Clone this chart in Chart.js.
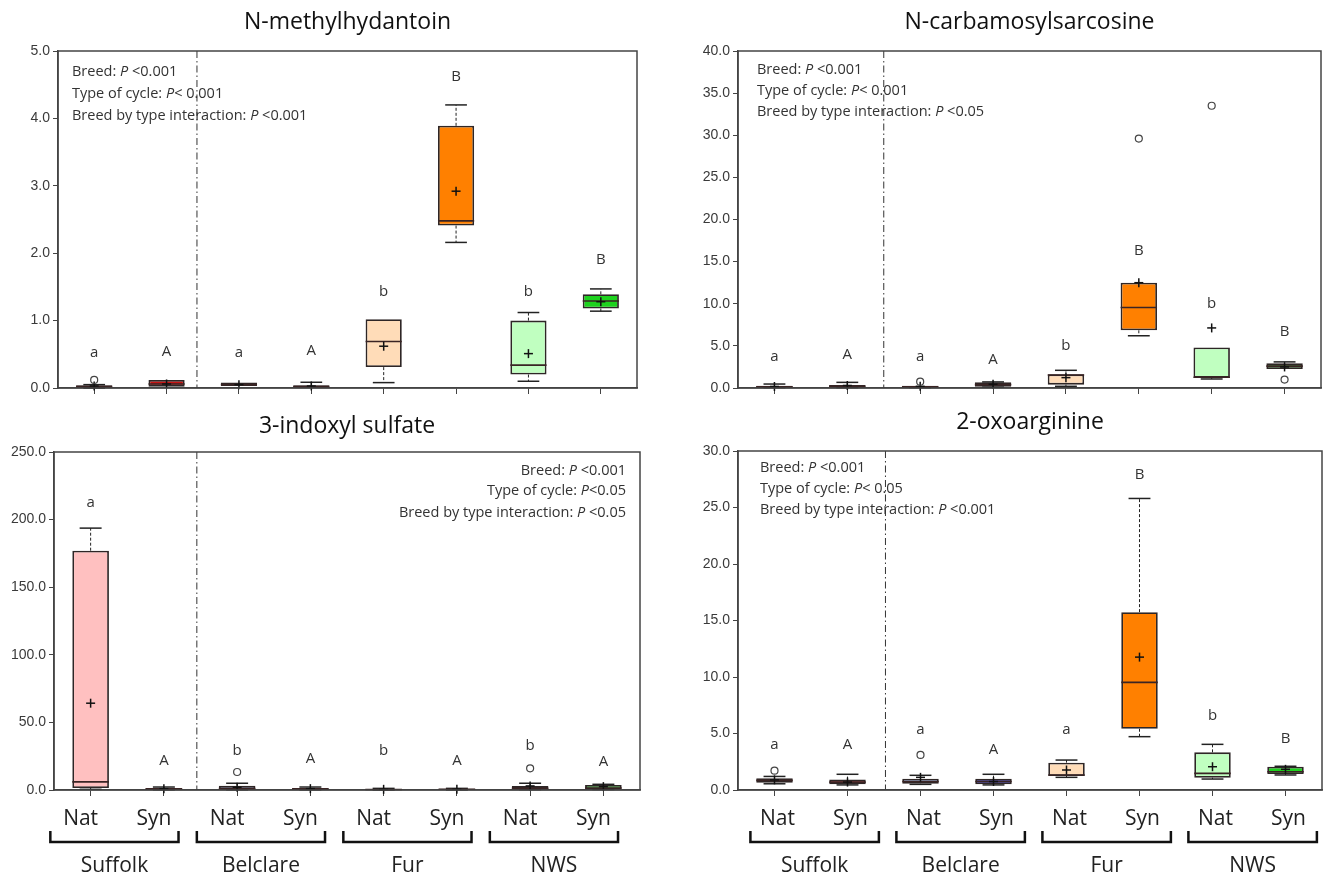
<!DOCTYPE html>
<html>
<head>
<meta charset="utf-8">
<title>Metabolite box plots</title>
<script src="https://cdn.jsdelivr.net/npm/chart.js@4.4.1/dist/chart.umd.min.js"></script>
<style>
  body { margin: 0; background: #fff; }
  #wrap { position: relative; width: 1330px; height: 877px; }
  canvas { position: absolute; }
</style>
</head>
<body>
<div id="wrap">
  <canvas id="nmh" width="665" height="400" style="left:0;top:0"></canvas>
  <canvas id="ncs" width="665" height="400" style="left:665px;top:0"></canvas>
  <canvas id="ixs" width="665" height="477" style="left:0;top:400px"></canvas>
  <canvas id="oxa" width="665" height="477" style="left:665px;top:400px"></canvas>
</div>
<script>
const categories = ['Nat', 'Syn', 'Nat', 'Syn', 'Nat', 'Syn', 'Nat', 'Syn'];
const breeds = ['Suffolk', 'Belclare', 'Fur', 'NWS'];
const boxColors = ['#ffc0c0', '#c81414', '#7b96cc', '#0a0a8c', '#ffdcb8', '#ff8000', '#c0ffc0', '#1ed21e'];
// the N-carbamosylsarcosine panel uses a darker green for NWS Syn
const boxColorsDark = ['#ffc0c0', '#c81414', '#7b96cc', '#0a0a8c', '#ffdcb8', '#ff8000', '#c0ffc0', '#3c9c3c'];

// N-methylhydantoin
const nmhLow  = [0.00, 0.02, 0.03, 0.01, 0.08, 2.16, 0.10, 1.14];
const nmhQ1   = [0.01, 0.02, 0.03, 0.01, 0.31, 2.41, 0.20, 1.18];
const nmhMed  = [0.02, 0.06, 0.05, 0.02, 0.69, 2.48, 0.34, 1.29];
const nmhQ3   = [0.04, 0.12, 0.08, 0.04, 1.02, 3.89, 1.00, 1.39];
const nmhHigh = [0.05, 0.12, 0.08, 0.085, 1.02, 4.20, 1.12, 1.47];
const nmhMean = [0.03, 0.06, 0.05, 0.03, 0.62, 2.92, 0.51, 1.28];
const nmhOut  = [[0.12], [], [], [], [], [], [], []];
const nmhLetters = ['a', 'A', 'a', 'A', 'b', 'B', 'b', 'B'];
const nmhLetterY = [0.52, 0.54, 0.52, 0.56, 1.43, 4.62, 1.43, 1.91];
const nmhStats = [['Breed: ', ' <0.001'], ['Type of cycle: ', '< 0.001'], ['Breed by type interaction: ', ' <0.001']];

// N-carbamosylsarcosine
const ncsLow  = [0.05, 0.05, 0.05, 0.10, 0.20, 6.20, 1.07, 2.26];
const ncsQ1   = [0.08, 0.08, 0.08, 0.16, 0.40, 6.85, 1.20, 2.26];
const ncsMed  = [0.15, 0.20, 0.15, 0.40, 1.55, 9.55, 1.27, 2.60];
const ncsQ3   = [0.27, 0.35, 0.27, 0.67, 1.62, 12.5, 4.80, 2.93];
const ncsHigh = [0.47, 0.67, 0.27, 0.72, 2.10, 12.5, 4.80, 3.10];
const ncsMean = [0.18, 0.30, 0.20, 0.45, 1.23, 12.5, 7.13, 2.50];
const ncsOut  = [[], [], [0.75], [], [], [29.6], [33.5], [1.0]];
const ncsLetters = ['a', 'A', 'a', 'A', 'b', 'B', 'b', 'B'];
const ncsLetterY = [3.7, 3.9, 3.7, 3.3, 5.07, 16.35, 10.0, 6.7];
const ncsStats = [['Breed: ', ' <0.001'], ['Type of cycle: ', '< 0.001'], ['Breed by type interaction: ', ' <0.05']];

// 3-indoxyl sulfate
const ixsLow  = [0.5, 0.2, 0.2, 0.2, 0.1, 0.1, 0.3, 0.4];
const ixsQ1   = [1.5, 0.3, 0.3, 0.3, 0.2, 0.2, 0.5, 0.5];
const ixsMed  = [6.0, 0.8, 1.0, 0.8, 0.4, 0.5, 1.2, 1.5];
const ixsQ3   = [177, 1.4, 3.2, 1.2, 0.8, 1.0, 3.0, 3.7];
const ixsHigh = [193.7, 2.2, 5.0, 2.2, 1.2, 1.2, 5.0, 4.2];
const ixsMean = [64.2, 1.0, 2.0, 1.0, 0.5, 0.6, 3.0, 2.5];
const ixsOut  = [[], [], [13.3], [], [], [], [16], []];
const ixsLetters = ['a', 'A', 'b', 'A', 'b', 'A', 'b', 'A'];
const ixsLetterY = [212.7, 21.6, 29.4, 22.9, 29.4, 21.4, 32.5, 21];
const ixsStats = [['Breed: ', ' <0.001'], ['Type of cycle: ', '<0.05'], ['Breed by type interaction: ', ' <0.05']];

// 2-oxoarginine
const oxaLow  = [0.55, 0.45, 0.50, 0.45, 1.12, 4.72, 0.97, 1.33];
const oxaQ1   = [0.65, 0.50, 0.55, 0.50, 1.24, 5.42, 1.09, 1.41];
const oxaMed  = [0.85, 0.70, 0.75, 0.75, 1.33, 9.52, 1.47, 1.62];
const oxaQ3   = [1.05, 0.92, 1.00, 1.00, 2.42, 15.74, 3.33, 2.06];
const oxaHigh = [1.20, 1.39, 1.30, 1.39, 2.65, 25.8, 4.04, 2.10];
const oxaMean = [0.90, 0.70, 1.12, 0.75, 1.77, 11.76, 2.06, 1.83];
const oxaOut  = [[1.71], [], [3.1], [], [], [], [], []];
const oxaLetters = ['a', 'A', 'a', 'A', 'a', 'B', 'b', 'B'];
const oxaLetterY = [3.98, 3.98, 5.3, 3.6, 5.3, 27.94, 6.54, 4.54];
const oxaStats = [['Breed: ', ' <0.001'], ['Type of cycle: ', '< 0.05'], ['Breed by type interaction: ', ' <0.001']];

const FONT = "'Open Sans', 'Noto Sans', sans-serif";

function line(ctx, x1, y1, x2, y2) {
    ctx.beginPath();
    ctx.moveTo(x1, y1);
    ctx.lineTo(x2, y2);
    ctx.stroke();
}

// whiskers, medians, means, outliers, letters, frame, notes, brackets
function boxExtras(p) {
    return {
        id: 'boxExtras',
        afterDatasetsDraw(chart) {
            const ctx = chart.ctx, x = chart.scales.x, y = chart.scales.y, area = chart.chartArea;
            const step = x.getPixelForValue(1) - x.getPixelForValue(0);
            ctx.save();
            // breed separator
            ctx.strokeStyle = '#333';
            ctx.lineWidth = 1;
            ctx.setLineDash([7, 3, 1.5, 3]);
            const sx = x.getPixelForValue(p.sep);
            line(ctx, sx, area.top, sx, area.bottom);
            ctx.setLineDash([]);

            for (let i = 0; i < categories.length; i++) {
                const cx = x.getPixelForValue(i);
                const half = step * 0.25, cap = step * 0.15;
                const yq1 = y.getPixelForValue(p.q1[i]), yq3 = y.getPixelForValue(p.q3[i]);
                const yl = y.getPixelForValue(p.low[i]), yh = y.getPixelForValue(p.high[i]);
                ctx.strokeStyle = '#222';
                ctx.lineWidth = 1;
                ctx.setLineDash([3, 2]);
                if (p.high[i] > p.q3[i]) line(ctx, cx, yq3, cx, yh);
                if (p.low[i] < p.q1[i]) line(ctx, cx, yq1, cx, yl);
                ctx.setLineDash([]);
                ctx.lineWidth = 1.5;
                if (p.high[i] > p.q3[i]) line(ctx, cx - cap, yh, cx + cap, yh);
                if (p.low[i] < p.q1[i]) line(ctx, cx - cap, yl, cx + cap, yl);

                // median
                ctx.strokeStyle = '#3a2424';
                ctx.lineWidth = 1.6;
                const ym = y.getPixelForValue(p.med[i]);
                line(ctx, cx - half, ym, cx + half, ym);

                // mean
                const yMean = y.getPixelForValue(p.mean[i]);
                ctx.strokeStyle = '#111';
                ctx.lineWidth = 1.5;
                line(ctx, cx - 4.5, yMean, cx + 4.5, yMean);
                line(ctx, cx, yMean - 4.5, cx, yMean + 4.5);

                // outliers
                ctx.strokeStyle = '#444';
                ctx.lineWidth = 1.2;
                for (const o of p.out[i]) {
                    ctx.beginPath();
                    ctx.arc(cx, y.getPixelForValue(o), 3.5, 0, Math.PI * 2);
                    ctx.stroke();
                }

                // letters
                ctx.fillStyle = '#333';
                ctx.font = '15px ' + FONT;
                ctx.textAlign = 'center';
                ctx.textBaseline = 'middle';
                ctx.fillText(p.letters[i], cx, y.getPixelForValue(p.letterY[i]));
            }
            ctx.restore();
        },
        afterDraw(chart) {
            const ctx = chart.ctx, x = chart.scales.x, area = chart.chartArea;
            ctx.save();
            ctx.strokeStyle = '#444';
            ctx.lineWidth = 1.5;
            ctx.strokeRect(area.left, area.top, area.right - area.left, area.bottom - area.top);

            // significance notes
            ctx.fillStyle = '#333';
            ctx.textBaseline = 'middle';
            ctx.textAlign = 'left';
            p.stats.forEach((s, k) => {
                const norm = '14.5px ' + FONT, ital = 'italic 14.5px ' + FONT;
                ctx.font = norm;
                const w1 = ctx.measureText(s[0]).width, w3 = ctx.measureText(s[1]).width;
                ctx.font = ital;
                const w2 = ctx.measureText('P').width;
                const ty = area.top + p.noteY[k];
                let tx = p.noteRight ? area.right - p.noteX - (w1 + w2 + w3) : area.left + p.noteX;
                ctx.font = norm; ctx.fillText(s[0], tx, ty);
                ctx.font = ital; ctx.fillText('P', tx + w1, ty);
                ctx.font = norm; ctx.fillText(s[1], tx + w1 + w2, ty);
            });

            // breed brackets
            if (p.brackets) {
                ctx.strokeStyle = '#111';
                ctx.lineWidth = 2.5;
                ctx.fillStyle = '#222';
                ctx.font = '21px ' + FONT;
                ctx.textAlign = 'center';
                breeds.forEach((b, g) => {
                    const x1 = x.getPixelForValue(2 * g + p.brackets[0]);
                    const x2 = x.getPixelForValue(2 * g + p.brackets[1]);
                    const yb = area.bottom + 52;
                    ctx.beginPath();
                    ctx.moveTo(x1, area.bottom + 41);
                    ctx.lineTo(x1, yb);
                    ctx.lineTo(x2, yb);
                    ctx.lineTo(x2, area.bottom + 41);
                    ctx.stroke();
                    ctx.fillText(b, (x1 + x2) / 2, area.bottom + 76);
                });
            }
            ctx.restore();
        }
    };
}

function makeChart(id, title, p, cfg) {
    const ctx = document.getElementById(id);
    return new Chart(ctx, {
        type: 'bar',
        data: {
            labels: categories,
            datasets: [{
                data: p.q1.map((v, i) => [v, p.q3[i]]),
                backgroundColor: cfg.colors,
                borderColor: '#2e2626',
                borderWidth: 1.8,
                borderSkipped: false,
                barPercentage: 0.5,
                categoryPercentage: 1.0,
            }]
        },
        options: {
            responsive: false,
            animation: false,
            layout: { padding: { left: 0, right: cfg.padRight, top: 0, bottom: 0 } },
            plugins: {
                legend: { display: false },
                tooltip: { enabled: false },
                title: {
                    display: true,
                    text: title,
                    fullSize: false,
                    color: '#111',
                    font: { family: FONT, size: 23, weight: 'normal' },
                    padding: { top: cfg.titleTop, bottom: cfg.top - cfg.titleTop - 27.6 },
                },
            },
            scales: {
                x: {
                    grid: { offset: false, drawOnChartArea: false, tickLength: 6, color: '#444' },
                    border: { color: '#444', width: 1.5 },
                    ticks: {
                        display: cfg.showLabels,
                        color: '#222',
                        padding: 10,
                        labelOffset: cfg.labelOffset,
                        font: { family: FONT, size: 21 },
                    },
                    afterFit: (scale) => { scale.height = cfg.xHeight; },
                },
                y: {
                    min: 0,
                    max: cfg.max,
                    grid: { drawOnChartArea: false, tickLength: 5, color: '#444' },
                    border: { color: '#444', width: 1.5 },
                    ticks: {
                        stepSize: cfg.step,
                        color: '#3a3a3a',
                        padding: 3,
                        font: { family: "'Liberation Sans', Arial, sans-serif", size: 14 },
                        callback: (v) => Number(v).toFixed(1),
                    },
                    afterFit: (scale) => { scale.width = cfg.yWidth; },
                }
            }
        },
        plugins: [boxExtras(p)]
    });
}

makeChart('nmh', 'N-methylhydantoin', {
    low: nmhLow, q1: nmhQ1, med: nmhMed, q3: nmhQ3, high: nmhHigh, mean: nmhMean, out: nmhOut,
    letters: nmhLetters, letterY: nmhLetterY, stats: nmhStats,
    sep: 1.42, noteX: 14, noteY: [21, 43, 65], noteRight: false, brackets: null,
}, { colors: boxColors, max: 5, step: 1, yWidth: 58, padRight: 28, top: 51, titleTop: 9, xHeight: 12, showLabels: false, labelOffset: 0 });

makeChart('ncs', 'N-carbamosylsarcosine', {
    low: ncsLow, q1: ncsQ1, med: ncsMed, q3: ncsQ3, high: ncsHigh, mean: ncsMean, out: ncsOut,
    letters: ncsLetters, letterY: ncsLetterY, stats: ncsStats,
    sep: 1.5, noteX: 19, noteY: [19, 40, 61], noteRight: false, brackets: null,
}, { colors: boxColorsDark, max: 40, step: 5, yWidth: 73, padRight: 9, top: 51, titleTop: 9, xHeight: 12, showLabels: false, labelOffset: 0 });

makeChart('ixs', '3-indoxyl sulfate', {
    low: ixsLow, q1: ixsQ1, med: ixsMed, q3: ixsQ3, high: ixsHigh, mean: ixsMean, out: ixsOut,
    letters: ixsLetters, letterY: ixsLetterY, stats: ixsStats,
    sep: 1.45, noteX: 14, noteY: [19, 39, 61], noteRight: true, brackets: [-0.55, 1.2],
}, { colors: boxColors, max: 250, step: 50, yWidth: 54, padRight: 25, top: 52, titleTop: 13, xHeight: 87, showLabels: true, labelOffset: -10 });

makeChart('oxa', '2-oxoarginine', {
    low: oxaLow, q1: oxaQ1, med: oxaMed, q3: oxaQ3, high: oxaHigh, mean: oxaMean, out: oxaOut,
    letters: oxaLetters, letterY: oxaLetterY, stats: oxaStats,
    sep: 1.52, noteX: 22, noteY: [17, 38, 59], noteRight: false, brackets: [-0.33, 1.43],
}, { colors: boxColors, max: 30, step: 5, yWidth: 73, padRight: 8, top: 51, titleTop: 9, xHeight: 87, showLabels: true, labelOffset: 3 });
</script>
</body>
</html>
